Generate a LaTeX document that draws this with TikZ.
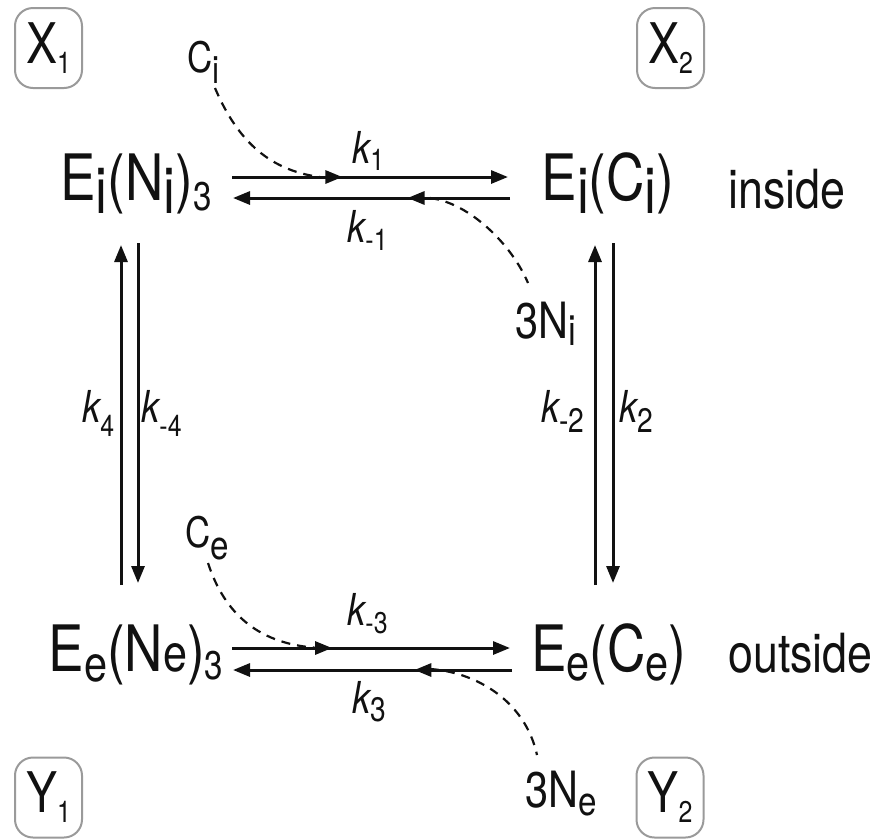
\documentclass[tikz,border=0pt]{standalone}
\usepackage{fontspec}
\setmainfont{TeX Gyre Heros}[FakeStretch=0.83]
\usetikzlibrary{arrows.meta,decorations.markings,calc}
\definecolor{boxgray}{HTML}{9A9A9A}
\definecolor{ink}{HTML}{111111}
\newcommand\lowr[3]{\raisebox{-#1pt}{\fontsize{#2}{#2}\selectfont #3}}
\tikzset{
  spec/.style={font=\fontsize{64}{64}\selectfont, inner sep=0pt, anchor=base, text=ink},
  lbl/.style={font=\fontsize{42}{42}\selectfont, inner sep=0pt, anchor=base west, text=ink},
  klbl/.style={font=\fontsize{44}{44}\selectfont\itshape, inner sep=0pt, anchor=base west, text=ink},
  boxnode/.style={draw=boxgray, line width=2pt, rounded corners=18pt, minimum width=67pt, minimum height=80pt, inner sep=0pt, font=\fontsize{56}{56}\selectfont, text=ink},
  rx/.style={draw=ink, line width=3pt, -{Triangle[length=17pt,width=13pt]}},
  midtip/.style={postaction={decorate}, decoration={markings, mark=at position #1 with {\arrow{Triangle[length=17pt,width=13pt]}}}},
  dsh/.style={draw=ink, dash pattern=on 9pt off 7pt, line width=2.2pt}
}
\begin{document}
\begin{tikzpicture}[x=1pt,y=-1pt]
\useasboundingbox (0,0) rectangle (878,839);
% boxes
\node[boxnode] (X1) at (48.5,48) {X\lowr{10}{30}{1}};
\node[boxnode] (X2) at (670.5,48) {X\lowr{10}{30}{2}};
\node[boxnode] (Y1) at (48.5,797.5) {Y\lowr{10}{30}{1}};
\node[boxnode] (Y2) at (670,797.5) {Y\lowr{10}{30}{2}};
% species
\node[spec] (EiNi) at (136,200) {E\lowr{13}{64}{i}(N\lowr{13}{64}{i})\lowr{10}{40}{3}};
\node[spec] (EiCi) at (608,200) {E\lowr{13}{64}{i}(C\lowr{13}{64}{i})};
\node[spec] (EeNe) at (136,671) {E\lowr{10}{50}{e}(N{\fontsize{52}{52}\selectfont e})\lowr{8}{40}{3}};
\node[spec] (EeCe) at (609,671) {E\lowr{9}{50}{e}(C\lowr{9}{50}{e})};
\node[anchor=base west, inner sep=0pt, font=\fontsize{54}{54}\selectfont, text=ink] (in) at (728,208) {inside};
\node[anchor=base west, inner sep=0pt, font=\fontsize{54}{54}\selectfont, text=ink] (out) at (728,672) {outside};
% small species
\node[lbl] (Ci) at (187,72) {C\lowr{11}{38}{i}};
\node[lbl, font=\fontsize{50}{50}\selectfont] (Ni3) at (515,338) {3N\lowr{7}{42}{i}};
\node[lbl] (Ce) at (185,547) {C\lowr{12}{40}{e}};
\node[lbl, font=\fontsize{50}{50}\selectfont] (Ne3) at (525,807) {3N\lowr{8}{40}{e}};
% rate constants
\node[klbl] (k1) at (352,163) {k\lowr{7}{30}{\upshape 1}};
\node[klbl] (km1) at (347,242) {k\lowr{8}{30}{\upshape -1}};
\node[klbl] (km3) at (347,625) {k\lowr{8}{30}{\upshape -3}};
\node[klbl] (k3) at (352,713) {k\lowr{8}{34}{\upshape 3}};
\node[klbl] (k4) at (82,422) {k\lowr{14}{30}{\upshape 4}};
\node[klbl] (km4) at (141,422) {k\lowr{14}{30}{\upshape -4}};
\node[klbl] (km2) at (541,422) {k\lowr{10}{34}{\upshape -2}};
\node[klbl] (k2) at (619,422) {k\lowr{10}{34}{\upshape 2}};
% horizontal arrows
\draw[rx, midtip=0.40] ($(EiNi.base)+(96,-23)$) -- ($(EiCi.base)+(-100,-23)$);
\draw[rx, midtip=0.37] ($(EiCi.base)+(-98,-2)$) -- ($(EiNi.base)+(97,-2)$);
\draw[rx, midtip=0.36] ($(EeNe.base)+(96,-23)$) -- ($(EeCe.base)+(-99,-23)$);
\draw[rx, midtip=0.35] ($(EeCe.base)+(-97,-1)$) -- ($(EeNe.base)+(97,-1)$);
% vertical arrows
\draw[rx] ($(EeNe.base)+(-15,-86)$) -- ($(EiNi.base)+(-15,45)$);
\draw[rx] ($(EiNi.base)+(2,43)$) -- ($(EeNe.base)+(2,-88)$);
\draw[rx] ($(EeCe.base)+(-14,-86)$) -- ($(EiCi.base)+(-13,45)$);
\draw[rx] ($(EiCi.base)+(5,43)$) -- ($(EeCe.base)+(4,-88)$);
% dashed
\coordinate (j1) at (320,177);
\coordinate (j2) at (430,198);
\coordinate (j3) at (320,648);
\coordinate (j4) at (430,669);
\draw[dsh] ($(Ci.base west)+(28,16)$) .. controls (235,135) and (265,170) .. (j1);
\draw[dsh] (j2) .. controls (470,203) and (512,245) .. ($(Ni3.base west)+(13,-55)$);
\draw[dsh] ($(Ce.base west)+(23,16)$) .. controls (225,615) and (260,645) .. (j3);
\draw[dsh] (j4) .. controls (475,672) and (525,700) .. ($(Ne3.base west)+(12,-52)$);
\end{tikzpicture}
\end{document}
